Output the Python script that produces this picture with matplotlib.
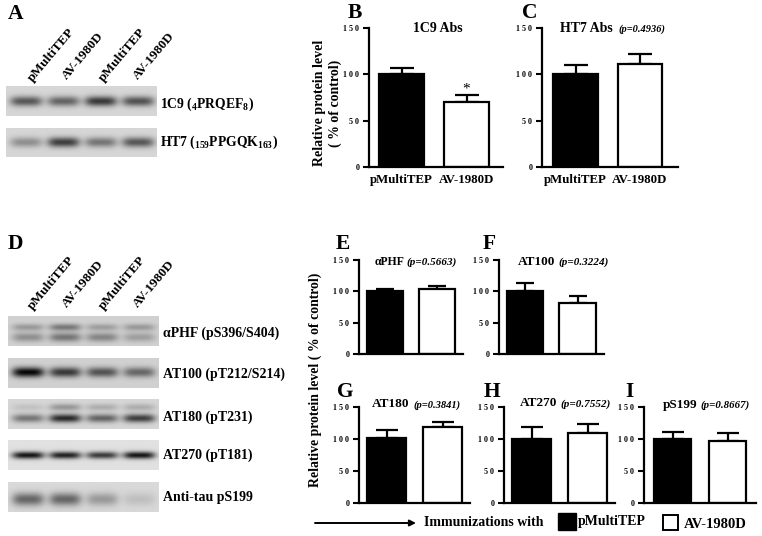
import numpy as np
import matplotlib
matplotlib.use("Agg")
from matplotlib import pyplot as plt
from matplotlib.patches import Rectangle, FancyArrowPatch

plt.rcParams['font.family'] = ['Liberation Serif', 'DejaVu Serif']
plt.rcParams['font.weight'] = 'bold'
plt.rcParams['mathtext.fontset'] = 'custom'
plt.rcParams['mathtext.rm'] = 'Liberation Serif:bold'
plt.rcParams['mathtext.it'] = 'Liberation Serif:italic:bold'
plt.rcParams['mathtext.bf'] = 'Liberation Serif:bold'

W, H = 762, 536

# bar values
groups = ["pMultiTEP", "AV-1980D"]
y_ticks = [0, 50, 100, 150]
tick_labels = ["0", "5 0", "1 0 0", "1 5 0"]

b_means = [100, 70]
b_tops = [107, 78]
c_means = [100, 111]
c_tops = [110, 122]
e_means = [101, 104]
e_tops = [104, 108]
f_means = [101, 82]
f_tops = [113, 93]
g_means = [101, 118]
g_tops = [114, 127]
h_means = [100, 110]
h_tops = [118, 123]
i_means = [100, 97]
i_tops = [111, 109]

# blot band darkness per lane
blot_1c9 = [0.50, 0.45, 0.62, 0.52]
blot_ht7 = [0.28, 0.60, 0.38, 0.50]
blot_phf_up = [0.22, 0.35, 0.20, 0.22]
blot_phf_low = [0.26, 0.36, 0.30, 0.20]
blot_at100 = [0.80, 0.60, 0.50, 0.42]
blot_at180_up = [0.08, 0.25, 0.16, 0.16]
blot_at180 = [0.38, 0.68, 0.45, 0.60]
blot_at270 = [0.80, 0.75, 0.65, 0.80]
blot_ps199 = [0.45, 0.45, 0.25, 0.10]


def fx(x):
    return x / W


def fy(y):
    return 1 - y / H


def label(x, y, s, size=10, ha='left', va='center', **kw):
    return fig.text(fx(x), fy(y), s, fontsize=size, ha=ha, va=va, **kw)


def blot(x0, x1, y0, y1, bg, bands):
    # bands: (y position in px from the blot top, sigma, darkness per lane)
    ax = fig.add_axes([fx(x0), fy(y1), fx(x1 - x0), (y1 - y0) / H])
    xx, yy = np.meshgrid(np.arange(0, x1 - x0, 0.5), np.arange(0, y1 - y0, 0.5))
    img = np.full(xx.shape, float(bg))
    lanes = [20, 57, 94, 131]
    for yc, sy, dark in bands:
        for xc, d in zip(lanes, dark):
            img -= d * np.exp(-((yy - yc) / sy) ** 2) * np.exp(-((xx - xc) / 16) ** 4)
    ax.imshow(img, cmap='gray', vmin=0, vmax=1, aspect='auto', interpolation='bilinear')
    ax.axis('off')


def bars(left, right, top, base, c0, c1, means, tops, cap, show_x=False):
    ax = fig.add_axes([fx(left), fy(base), fx(right - left), (base - top) / H])
    step = c1 - c0
    ax.set_xlim((left - c0) / step, (right - c0) / step)
    ax.set_ylim(0, 150)
    cols = ['black', 'white']
    ax.bar([0, 1], means, width=0.69, color=cols, edgecolor='black', linewidth=1.6, zorder=2)
    ax.errorbar([0, 1], means, yerr=[[0, 0], np.array(tops) - np.array(means)], fmt='none',
                ecolor='black', elinewidth=1.6, capsize=cap, capthick=1.6, zorder=1)
    for s in ['top', 'right']:
        ax.spines[s].set_visible(False)
    ax.spines['left'].set_linewidth(1.6)
    ax.spines['bottom'].set_linewidth(1.6)
    ax.set_yticks(y_ticks)
    ax.set_yticklabels(tick_labels, fontsize=5.8)
    ax.tick_params(axis='y', length=4, width=1.5, pad=3)
    ax.patch.set_alpha(0)
    if show_x:
        ax.set_xticks([0, 1])
        ax.set_xticklabels(groups, fontsize=9.3)
        ax.tick_params(axis='x', length=0, pad=5)
    else:
        ax.set_xticks([])
    return ax


fig = plt.figure(figsize=(W / 100, H / 100), dpi=100, facecolor='white')

# panel letters
for s, x, y in [("A", 8, 14), ("B", 348, 13), ("C", 522, 13), ("D", 8, 244), ("E", 336, 244),
                ("F", 483, 244), ("G", 337, 392), ("H", 484, 392), ("I", 625, 392)]:
    label(x, y, s, size=15.5)

# blots A
blot(6, 156, 86, 116, 0.84, [(15, 5, blot_1c9)])
blot(6, 156, 128, 157, 0.84, [(14, 5, blot_ht7)])
label(160, 104, r"1C9 ($_{\mathrm{4}}$PRQEF$_{\mathrm{8}}$)", size=9.8)
label(160, 142, r"HT7 ($_{\mathrm{159}}$PPGQK$_{\mathrm{163}}$)", size=9.8)

# blots D
blot(8, 159, 316, 346, 0.82, [(11, 3.5, blot_phf_up), (21, 4.5, blot_phf_low)])
blot(8, 159, 358, 388, 0.82, [(14, 5, blot_at100)])
blot(8, 159, 399, 429, 0.84, [(8, 3.5, blot_at180_up), (19, 4.2, blot_at180)])
blot(8, 159, 440, 470, 0.88, [(15, 3.6, blot_at270)])
blot(8, 159, 482, 512, 0.85, [(17, 6.5, blot_ps199)])
for s, y in [("\u03b1PHF (pS396/S404)", 333), ("AT100 (pT212/S214)", 374), ("AT180 (pT231)", 417),
             ("AT270 (pT181)", 455), ("Anti-tau pS199", 498)]:
    label(163, y, s, size=10)

# lane labels
for x, dy, s in [(30, 0, groups[0]), (65, -2, groups[1]), (101, 0, groups[0]), (136, -2, groups[1])]:
    for base in [80, 308]:
        label(x, base + dy, s, size=9.6, ha='left', va='center', rotation=50, rotation_mode='anchor')

# bar panels
bars(369, 503, 28, 167, 401.5, 466.5, b_means, b_tops, 8.5, show_x=True)
bars(542, 678, 28, 167, 575.5, 640, c_means, c_tops, 8.5, show_x=True)
bars(359, 463, 260, 354, 385, 437, e_means, e_tops, 6.2)
bars(499, 604, 260, 354, 525, 577.5, f_means, f_tops, 6.2)
bars(359, 470, 407, 503, 386.5, 442.5, g_means, g_tops, 8)
bars(504, 615, 407, 503, 531.5, 587.5, h_means, h_tops, 8)
bars(644, 756, 407, 503, 672.5, 727.5, i_means, i_tops, 8)

# titles
label(438, 28, "1C9 Abs", size=10, ha='center')
label(466, 89, "*", size=11, ha='center', va='center', fontweight='normal')
label(560, 28, "HT7 Abs", size=10)
label(618, 29, "(p=0.4936)", size=7.5, style='italic')
label(375, 262, "\u03b1PHF", size=8.5)
label(406, 262, "(p=0.5663)", size=8, style='italic')
label(518, 262, "AT100", size=9.5)
label(558, 262, "(p=0.3224)", size=8, style='italic')
label(372, 404, "AT180", size=9.5)
label(413, 405, "(p=0.3841)", size=7.6, style='italic')
label(520, 403, "AT270", size=9.5)
label(560, 404, "(p=0.7552)", size=8, style='italic')
label(663, 405, "pS199", size=9.5)
label(700, 405, "(p=0.8667)", size=7.8, style='italic')

# y labels
label(320, 103, "Relative protein level", size=10, ha='center', rotation=90)
label(335, 103, "( % of control)", size=10, ha='center', rotation=90)
label(315, 380, "Relative protein level ( % of control)", size=9.9, ha='center', rotation=90)

# bottom legend
fig.add_artist(FancyArrowPatch(
    (fx(315), fy(523)), (fx(416), fy(523)), transform=fig.transFigure,
    arrowstyle='-|>', mutation_scale=9, color='black', linewidth=1.4, shrinkA=0, shrinkB=0))
label(424, 522, "Immunizations with", size=10)
fig.add_artist(Rectangle((fx(558), fy(530)), 18 / W, 17 / H, transform=fig.transFigure,
                         facecolor='black', edgecolor='black'))
label(578, 522, "pMultiTEP", size=10)
fig.add_artist(Rectangle((fx(663), fy(530)), 15 / W, 15 / H, transform=fig.transFigure,
                         facecolor='white', edgecolor='black', linewidth=1.4))
label(684, 524, "AV-1980D", size=10.5)

fig.savefig("out.png", dpi=100)
